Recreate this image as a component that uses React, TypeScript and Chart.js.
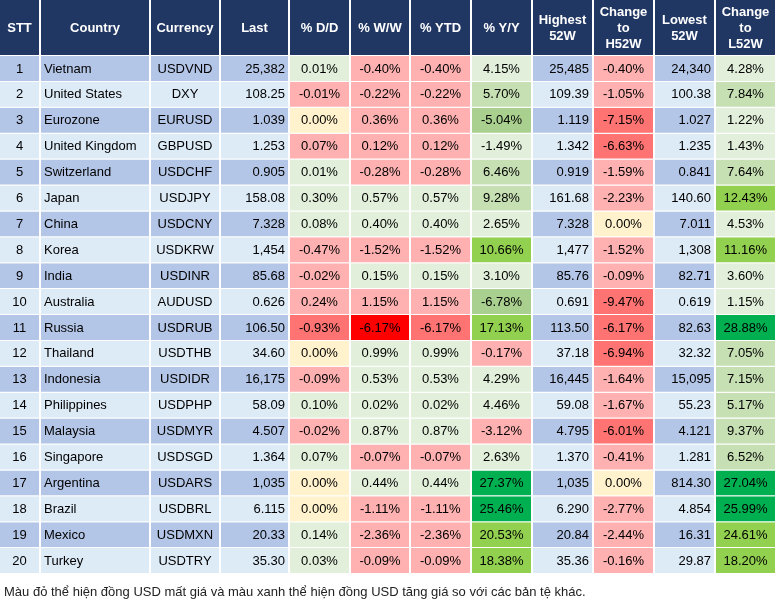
import React, { useEffect, useRef } from "react";
import { Chart, registerables } from "chart.js";

Chart.register(...registerables);

// ---------- data ----------
const stt = ["1","2","3","4","5","6","7","8","9","10","11","12","13","14","15","16","17","18","19","20"];
const countries = ["Vietnam","United States","Eurozone","United Kingdom","Switzerland","Japan","China","Korea","India","Australia","Russia","Thailand","Indonesia","Philippines","Malaysia","Singapore","Argentina","Brazil","Mexico","Turkey"];
const currencies = ["USDVND","DXY","EURUSD","GBPUSD","USDCHF","USDJPY","USDCNY","USDKRW","USDINR","AUDUSD","USDRUB","USDTHB","USDIDR","USDPHP","USDMYR","USDSGD","USDARS","USDBRL","USDMXN","USDTRY"];
const lastValues = [25382,108.25,1.039,1.253,0.905,158.08,7.328,1454,85.68,0.626,106.50,34.60,16175,58.09,4.507,1.364,1035,6.115,20.33,35.30];
const pctDD = [0.01,-0.01,0.00,0.07,0.01,0.30,0.08,-0.47,-0.02,0.24,-0.93,0.00,-0.09,0.10,-0.02,0.07,0.00,0.00,0.14,0.03];
const pctWW = [-0.40,-0.22,0.36,0.12,-0.28,0.57,0.40,-1.52,0.15,1.15,-6.17,0.99,0.53,0.02,0.87,-0.07,0.44,-1.11,-2.36,-0.09];
const pctYTD = [-0.40,-0.22,0.36,0.12,-0.28,0.57,0.40,-1.52,0.15,1.15,-6.17,0.99,0.53,0.02,0.87,-0.07,0.44,-1.11,-2.36,-0.09];
const pctYY = [4.15,5.70,-5.04,-1.49,6.46,9.28,2.65,10.66,3.10,-6.78,17.13,-0.17,4.29,4.46,-3.12,2.63,27.37,25.46,20.53,18.38];
const high52 = [25485,109.39,1.119,1.342,0.919,161.68,7.328,1477,85.76,0.691,113.50,37.18,16445,59.08,4.795,1.370,1035,6.290,20.84,35.36];
const chgH52 = [-0.40,-1.05,-7.15,-6.63,-1.59,-2.23,0.00,-1.52,-0.09,-9.47,-6.17,-6.94,-1.64,-1.67,-6.01,-0.41,0.00,-2.77,-2.44,-0.16];
const low52 = [24340,100.38,1.027,1.235,0.841,140.60,7.011,1308,82.71,0.619,82.63,32.32,15095,55.23,4.121,1.281,814.30,4.854,16.31,29.87];
const chgL52 = [4.28,7.84,1.22,1.43,7.64,12.43,4.53,11.16,3.60,1.15,28.88,7.05,7.15,5.17,9.37,6.52,27.04,25.99,24.61,18.20];

const headerLabels: (string | string[])[] = [
  "STT", "Country", "Currency", "Last", "% D/D", "% W/W", "% YTD", "% Y/Y",
  ["Highest", "52W"], ["Change", "to", "H52W"], ["Lowest", "52W"], ["Change", "to", "L52W"],
];

// colour tone of each percentage cell
const toneDD = ["g1","p","y","p","g1","g1","g1","p","p","p","r","y","p","g1","p","g1","y","y","g1","g1"];
const toneWW = ["p","p","p","p","p","g1","g1","p","g1","p","rr","g1","g1","g1","g1","p","g1","p","p","p"];
const toneYTD = ["p","p","p","p","p","g1","g1","p","g1","p","r","g1","g1","g1","g1","p","g1","p","p","p"];
const toneYY = ["g1","g2","g3","g1","g2","g2","g1","g4","g1","g3","g4","p","g1","g1","p","g1","g5","g5","g4","g4"];
const toneH52 = ["p","p","r","r","p","p","y","p","p","r","r","r","p","p","r","p","y","p","p","p"];
const toneL52 = ["g1","g2","g1","g1","g2","g4","g1","g4","g1","g1","g5","g2","g2","g2","g2","g2","g5","g5","g4","g4"];

const footnote = "Màu đỏ thể hiện đồng USD mất giá và màu xanh thể hiện đồng USD tăng giá so với các bản tệ khác.";

// ---------- styles / layout ----------
const TONES: Record<string, string> = {
  y: "#FFF2CC", p: "#FFB1B1", r: "#FF7373", rr: "#FF0000",
  g1: "#E2EFDA", g2: "#C6E0B4", g3: "#A9D08E", g4: "#92D050", g5: "#00B050",
};
const ROW_ODD = "#B4C6E7";
const ROW_EVEN = "#DDEBF7";
const HEADER_BG = "#203764";
const FONT = "Arial, 'Liberation Sans', sans-serif";
const EDGES = [0, 41, 151, 221, 290, 351, 411, 472, 533, 594, 655, 716, 777];
const GAP = 2;
const HEADER_H = 56;
const W = 777;
const H = 602;

const fmtNum = (v: number) =>
  v >= 1000 ? Math.round(v).toLocaleString("en-US") : v >= 10 ? v.toFixed(2) : v.toFixed(3);
const fmtPct = (v: number) => v.toFixed(2) + "%";
const rowBg = () => stt.map((_, i) => (i % 2 === 0 ? ROW_ODD : ROW_EVEN));
const toneBg = (t: string[]) => t.map((k) => TONES[k]);

type Col = { text: string[]; align: "left" | "center" | "right"; bg: string[] };
const columns: Col[] = [
  { text: stt, align: "center", bg: rowBg() },
  { text: countries, align: "left", bg: rowBg() },
  { text: currencies, align: "center", bg: rowBg() },
  { text: lastValues.map(fmtNum), align: "right", bg: rowBg() },
  { text: pctDD.map(fmtPct), align: "center", bg: toneBg(toneDD) },
  { text: pctWW.map(fmtPct), align: "center", bg: toneBg(toneWW) },
  { text: pctYTD.map(fmtPct), align: "center", bg: toneBg(toneYTD) },
  { text: pctYY.map(fmtPct), align: "center", bg: toneBg(toneYY) },
  { text: high52.map(fmtNum), align: "right", bg: rowBg() },
  { text: chgH52.map(fmtPct), align: "center", bg: toneBg(toneH52) },
  { text: low52.map(fmtNum), align: "right", bg: rowBg() },
  { text: chgL52.map(fmtPct), align: "center", bg: toneBg(toneL52) },
];
const centers = columns.map((_, c) => (EDGES[c] + EDGES[c + 1] - GAP) / 2);

const tablePlugin = {
  id: "tableCells",
  beforeDraw(chart: any) {
    const ctx = chart.ctx;
    const xs = chart.scales.x;
    ctx.save();
    ctx.fillStyle = "#ffffff";
    ctx.fillRect(0, 0, chart.width, chart.height);
    ctx.fillStyle = HEADER_BG;
    const top = chart.chartArea.top;
    for (let c = 0; c < columns.length; c++) {
      const l = xs.getPixelForValue(EDGES[c]);
      const r = xs.getPixelForValue(EDGES[c + 1]) - GAP;
      ctx.fillRect(l, 0, r - l, top - 1);
    }
    ctx.restore();
  },
  afterDatasetsDraw(chart: any) {
    const ctx = chart.ctx;
    ctx.save();
    ctx.fillStyle = "#000000";
    ctx.font = `13px ${FONT}`;
    ctx.textBaseline = "middle";
    columns.forEach((col, c) => {
      const meta = chart.getDatasetMeta(c);
      meta.data.forEach((bar: any, i: number) => {
        const p = bar.getProps(["x", "base", "y"], true);
        const left = Math.min(p.x, p.base);
        const right = Math.max(p.x, p.base) - GAP;
        const y = p.y;
        let tx = (left + right) / 2;
        if (col.align === "left") tx = left + 3;
        if (col.align === "right") tx = right - 3;
        ctx.textAlign = col.align;
        ctx.fillText(col.text[i], tx, y);
      });
    });
    ctx.restore();
  },
  afterDraw(chart: any) {
    const ctx = chart.ctx;
    ctx.save();
    ctx.fillStyle = "#222222";
    ctx.font = `13px ${FONT}`;
    ctx.textBaseline = "middle";
    ctx.textAlign = "left";
    ctx.fillText(footnote, 4, 592);
    ctx.restore();
  },
};

export default function App() {
  const ref = useRef<HTMLCanvasElement | null>(null);
  useEffect(() => {
    if (!ref.current) return;
    const chart = new Chart(ref.current, {
      type: "bar",
      data: {
        labels: stt,
        datasets: columns.map((col, c) => ({
          label: String(c),
          data: stt.map(() => [EDGES[c], EDGES[c + 1]]),
          backgroundColor: col.bg,
          borderColor: "#ffffff",
          borderWidth: { top: 0, left: 0, right: GAP, bottom: 1 },
          borderSkipped: false,
          inflateAmount: 0,
          barPercentage: 1,
          categoryPercentage: 1,
        })) as any,
      },
      options: {
        indexAxis: "y",
        responsive: false,
        animation: false,
        devicePixelRatio: 1,
        events: [],
        layout: { autoPadding: false, padding: { top: 0, left: 0, right: 0, bottom: 28 } },
        datasets: { bar: { grouped: false } } as any,
        plugins: { legend: { display: false }, tooltip: { enabled: false }, title: { display: false } },
        scales: {
          x: {
            type: "linear",
            position: "top",
            min: 0,
            max: W,
            grid: { display: false, drawTicks: false },
            border: { display: false },
            afterBuildTicks: (axis: any) => {
              axis.ticks = centers.map((v) => ({ value: v }));
            },
            afterFit: (axis: any) => {
              axis.height = HEADER_H;
              axis.paddingLeft = 0;
              axis.paddingRight = 0;
            },
            ticks: {
              autoSkip: false,
              maxRotation: 0,
              minRotation: 0,
              color: "#ffffff",
              padding: 12,
              crossAlign: "center",
              font: { family: FONT, size: 13, weight: "bold", lineHeight: "16px" },
              callback: (_v: any, i: number) => headerLabels[i],
            },
          } as any,
          y: {
            type: "category",
            display: false,
            offset: true,
            grid: { display: false },
          },
        },
      },
      plugins: [tablePlugin],
    });
    return () => chart.destroy();
  }, []);
  return (
    <div style={{ position: "absolute", left: 0, top: 0, width: W, height: H, background: "#fff" }}>
      <canvas ref={ref} width={W} height={H} style={{ display: "block" }} />
    </div>
  );
}
